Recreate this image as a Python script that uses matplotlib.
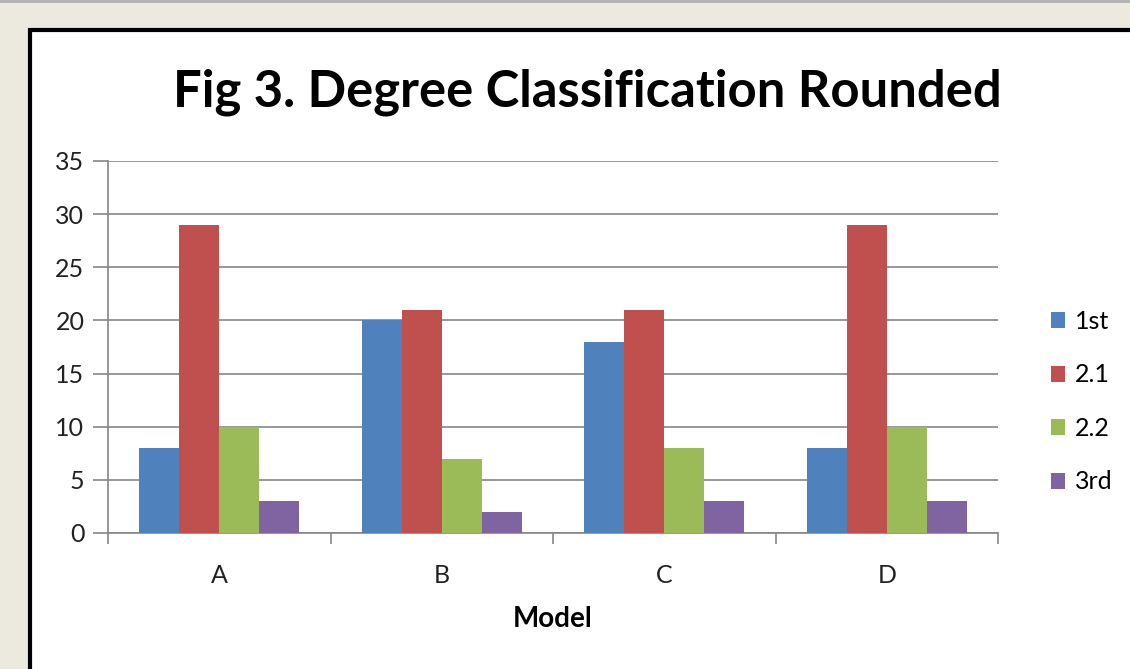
import numpy as np
import matplotlib
matplotlib.use('Agg')
import matplotlib.pyplot as plt
from matplotlib.patches import Rectangle

models = ['A', 'B', 'C', 'D']
first = [8, 20, 18, 8]
upper_second = [29, 21, 21, 29]
lower_second = [10, 7, 8, 10]
third = [3, 2, 3, 3]
series_names = ['1st', '2.1', '2.2', '3rd']
colors = ['#4F81BD', '#C0504D', '#9BBB59', '#8064A2']

plt.rcParams['font.family'] = ['Lato', 'DejaVu Sans']

fig = plt.figure(figsize=(11.3, 6.69), dpi=100)
fig.patch.set_facecolor('#ECE9DF')

# white chart box with black border, running off the right and bottom edges
box = Rectangle((29.5 / 1130, -0.05), 1.2, 1 - 30 / 669 + 0.05,
                transform=fig.transFigure, facecolor='white',
                edgecolor='black', linewidth=3, zorder=-10)
fig.patches.append(box)
fig.add_artist(plt.Line2D([0, 1], [1 - 1 / 669, 1 - 1 / 669],
                          color='#B0B0B0', linewidth=2,
                          transform=fig.transFigure, zorder=-5))

ax = fig.add_axes([108 / 1130, 1 - 533 / 669, 890 / 1130, 372 / 669])
ax.set_facecolor('white')

x = np.arange(len(models))
bw = 0.18
all_series = [first, upper_second, lower_second, third]
for i, vals in enumerate(all_series):
    ax.bar(x + (i - 1.5) * bw, vals, bw, color=colors[i],
           label=series_names[i], zorder=3)

ax.set_xlim(-0.5, 3.5)
ax.set_ylim(0, 35)
ax.set_yticks(range(0, 36, 5))
ax.grid(axis='y', color='#868686', linewidth=1.2, zorder=0)
ax.set_axisbelow(True)
ax.set_xticks(x)
ax.set_xticklabels(models)
ax.set_xticks(np.arange(-0.5, 4, 1), minor=True)
ax.tick_params(axis='x', which='major', length=0, pad=22, labelsize=18,
               labelcolor='#222222')
ax.tick_params(axis='x', which='minor', length=8, color='#868686', width=1.2)
ax.tick_params(axis='y', length=11, color='#868686', width=1.2,
               labelsize=18, pad=6, labelcolor='#222222')
for s in ['top', 'right']:
    ax.spines[s].set_visible(False)
for s in ['left', 'bottom']:
    ax.spines[s].set_color('#868686')
    ax.spines[s].set_linewidth(1.2)

ax.set_xlabel('Model', fontsize=20, fontweight='bold', labelpad=14)
fig.text(587 / 1130, 1 - 107 / 669, 'Fig 3. Degree Classification Rounded',
         ha='center', va='baseline', fontsize=36.5, fontweight='bold')

ax.legend(loc='center left', bbox_to_anchor=(1.034, 0.353), frameon=False,
          fontsize=18, handlelength=0.55, handleheight=0.6,
          handletextpad=0.4, labelspacing=1.22)

fig.savefig('out.png', dpi=100, facecolor=fig.get_facecolor())
